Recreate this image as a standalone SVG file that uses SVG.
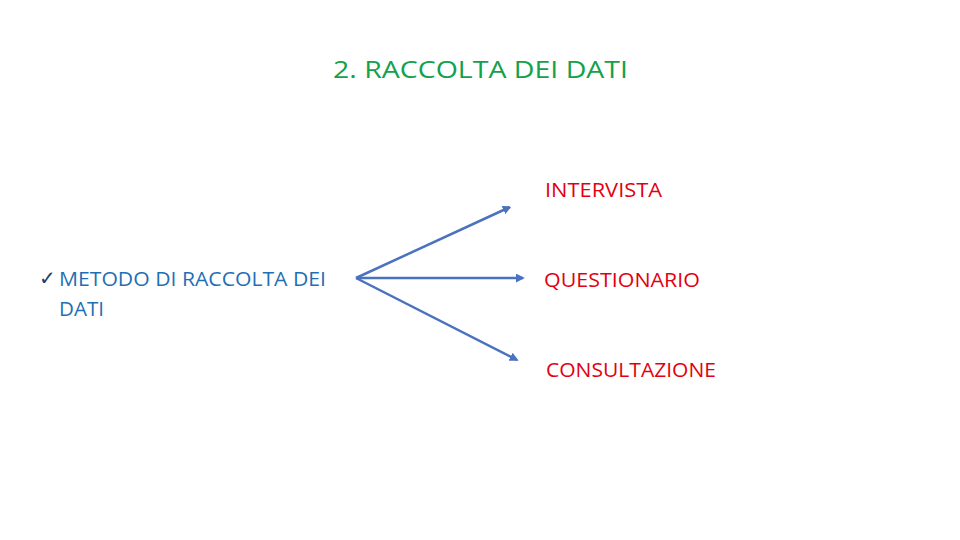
<svg xmlns="http://www.w3.org/2000/svg" width="960" height="540" viewBox="0 0 960 540">
<style>
text{font-family:"Open Sans",Lato,"Liberation Sans",sans-serif;}
.title{fill:#12A24B;font-size:24.5px;}
.left{fill:#1F6FB5;font-size:19.5px;}
.red{fill:#E3000F;font-size:19.5px;}
.arr{stroke:#4A72BE;stroke-width:2.5;fill:none;marker-end:url(#ah);}
</style>
<defs>
<marker id="ah" viewBox="0 0 10 10" refX="8" refY="5" markerWidth="3.6" markerHeight="3.6" orient="auto" markerUnits="strokeWidth">
<path d="M0,0 L10,5 L0,10 z" fill="#4A72BE"/>
</marker>
</defs>
<rect width="960" height="540" fill="#ffffff"/>
<g id="title"><text class="title" x="333" y="78" textLength="295" lengthAdjust="spacingAndGlyphs">2. RACCOLTA DEI DATI</text></g>
<g id="metodo">
<text x="39" y="285" style="font-family:'DejaVu Sans',sans-serif;font-size:20px;fill:#1F3F6F">✓</text>
<text class="left" x="59" y="286" textLength="267" lengthAdjust="spacingAndGlyphs">METODO DI RACCOLTA DEI</text>
<text class="left" x="59" y="316" textLength="45" lengthAdjust="spacingAndGlyphs">DATI</text>
</g>
<g id="intervista"><text class="red" x="545" y="197" textLength="117" lengthAdjust="spacingAndGlyphs">INTERVISTA</text></g>
<g id="questionario"><text class="red" x="544" y="287" textLength="156" lengthAdjust="spacingAndGlyphs">QUESTIONARIO</text></g>
<g id="consultazione"><text class="red" x="546" y="377" textLength="170" lengthAdjust="spacingAndGlyphs">CONSULTAZIONE</text></g>
<g id="connectors">
<line class="arr" x1="356" y1="278" x2="510" y2="207"/>
<line class="arr" x1="356" y1="278" x2="523" y2="278"/>
<line class="arr" x1="356" y1="278" x2="517" y2="360"/>
</g>
</svg>
